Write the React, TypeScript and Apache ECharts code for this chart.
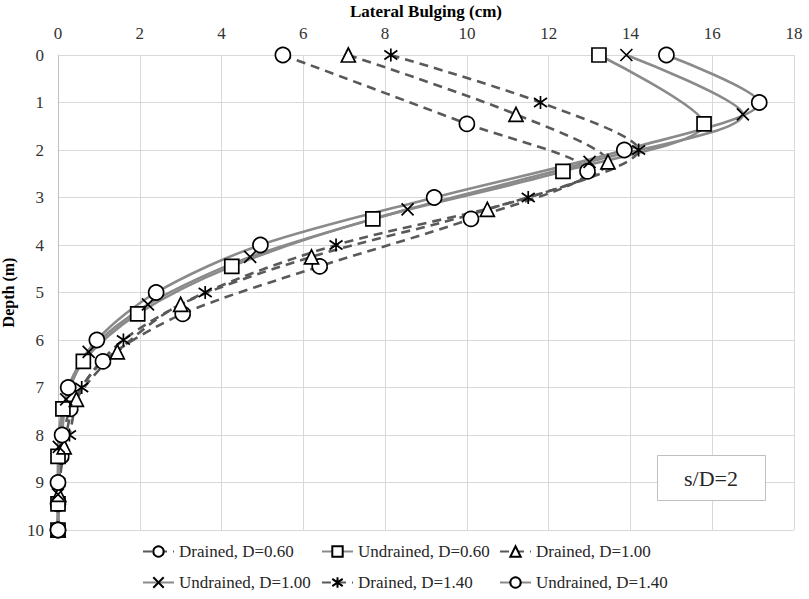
import React, { useEffect, useRef } from "react";
import * as echarts from "echarts";

const seriesNames = [
  "Drained, D=0.60",
  "Undrained, D=0.60",
  "Drained, D=1.00",
  "Undrained, D=1.00",
  "Drained, D=1.40",
  "Undrained, D=1.40",
];

const depthD060 = [0, 1.45, 2.45, 3.45, 4.45, 5.45, 6.45, 7.45, 8.45, 9.45, 10];
const depthD100 = [0, 1.25, 2.25, 3.25, 4.25, 5.25, 6.25, 7.25, 8.25, 9.25, 10];
const depthD140 = [0, 1, 2, 3, 4, 5, 6, 7, 8, 9, 10];

const drainedD060 = [5.5, 10.0, 12.95, 10.1, 6.4, 3.05, 1.1, 0.3, 0.08, 0.0, 0];
const undrainedD060 = [13.23, 15.8, 12.35, 7.7, 4.25, 1.95, 0.62, 0.12, 0.0, 0.0, 0];
const drainedD100 = [7.1, 11.2, 13.45, 10.5, 6.2, 3.0, 1.45, 0.45, 0.15, 0.02, 0];
const undrainedD100 = [13.9, 16.75, 13.0, 8.55, 4.7, 2.2, 0.75, 0.2, 0.02, 0.0, 0];
const drainedD140 = [8.14, 11.8, 14.2, 11.5, 6.8, 3.6, 1.6, 0.58, 0.28, 0.02, 0];
const undrainedD140 = [14.88, 17.15, 13.85, 9.2, 4.95, 2.4, 0.95, 0.25, 0.1, 0.0, 0];

const xTicks = [0, 2, 4, 6, 8, 10, 12, 14, 16, 18];
const annotation = "s/D=2";

const FONT = "Liberation Serif";
const X_PATH = "path://M0,0L10,10M10,0L0,10";
const STAR_PATH = "path://M5,0L5,10M0,1.5L10,8.5M0,8.5L10,1.5";

export default function App() {
  const ref = useRef<HTMLDivElement>(null);
  useEffect(() => {
    if (!ref.current) return;
    const chart = echarts.init(ref.current, null, { renderer: "svg" });
    const pair = (xs: number[], ds: number[]) => ds.map((d, i) => [xs[i], d]);
    const defs = [
      { x: drainedD060, d: depthD060, symbol: "circle", size: 15, drained: true },
      { x: undrainedD060, d: depthD060, symbol: "rect", size: 14, drained: false },
      { x: drainedD100, d: depthD100, symbol: "triangle", size: 14, drained: true },
      { x: undrainedD100, d: depthD100, symbol: X_PATH, size: 12, drained: false },
      { x: drainedD140, d: depthD140, symbol: STAR_PATH, size: 13, drained: true },
      { x: undrainedD140, d: depthD140, symbol: "circle", size: 15, drained: false },
    ];
    const series = defs.map((s, i) => ({
      name: seriesNames[i],
      type: "line",
      data: pair(s.x, s.d),
      smooth: 0.3,
      symbol: s.symbol,
      symbolSize: s.size,
      showAllSymbol: true,
      lineStyle: {
        color: s.drained ? "#595959" : "#8a8a8a",
        width: 2.6,
        type: s.drained ? [9, 6] : "solid",
      },
      itemStyle: { color: "#ffffff", borderColor: "#000000", borderWidth: 1.7 },
      emphasis: { disabled: true },
      z: 2,
    }));
    const legendCols = [137, 316, 494];
    const legendRows = [538, 569];
    const legend = seriesNames.map((n, i) => ({
      data: [n],
      left: legendCols[i % 3],
      top: legendRows[Math.floor(i / 3)],
      itemWidth: 31,
      itemHeight: 13,
      itemGap: 0,
      selectedMode: false,
      textStyle: { fontFamily: FONT, fontSize: 17, color: "#262626" },
    }));
    chart.setOption({
      animation: false,
      backgroundColor: "#ffffff",
      grid: {
        left: 58,
        right: 15,
        top: 55,
        bottom: 69,
        containLabel: false,
        outerBoundsMode: "none",
      },
      legend,
      xAxis: {
        type: "value",
        position: "top",
        min: 0,
        max: 18,
        interval: 2,
        name: "Lateral Bulging (cm)",
        nameLocation: "middle",
        nameGap: 34,
        nameTextStyle: { fontFamily: FONT, fontSize: 17, fontWeight: "bold", color: "#000" },
        axisLine: { show: true, lineStyle: { color: "#d9d9d9" } },
        axisTick: { show: false },
        axisLabel: {
          fontFamily: FONT,
          fontSize: 17,
          color: "#333",
          margin: 13,
          formatter: (v: number) => (xTicks.includes(v) ? String(v) : ""),
        },
        splitLine: { show: true, lineStyle: { color: "#d9d9d9", width: 1 } },
      },
      yAxis: {
        type: "value",
        inverse: true,
        min: 0,
        max: 10,
        interval: 1,
        name: "Depth (m)",
        nameLocation: "middle",
        nameGap: 39,
        nameTextStyle: { fontFamily: FONT, fontSize: 16, fontWeight: "bold", color: "#000" },
        axisLine: { show: true, lineStyle: { color: "#bfbfbf" } },
        axisTick: { show: false },
        axisLabel: { fontFamily: FONT, fontSize: 17, color: "#333", margin: 14 },
        splitLine: { show: true, lineStyle: { color: "#d9d9d9", width: 1 } },
      },
      graphic: [
        {
          type: "rect",
          left: 657,
          top: 455,
          shape: { width: 108, height: 45 },
          style: { fill: "#ffffff", stroke: "#bfbfbf", lineWidth: 1 },
          z: 10,
        },
        {
          type: "text",
          x: 711,
          y: 478,
          style: {
            text: annotation,
            fontFamily: FONT,
            fontSize: 22,
            fill: "#262626",
            align: "center",
            verticalAlign: "middle",
          },
          z: 11,
        },
      ],
      series,
    });
    return () => chart.dispose();
  }, []);
  return (
    <div
      ref={ref}
      style={{ position: "fixed", left: 0, top: 0, width: 809, height: 599 }}
    />
  );
}
